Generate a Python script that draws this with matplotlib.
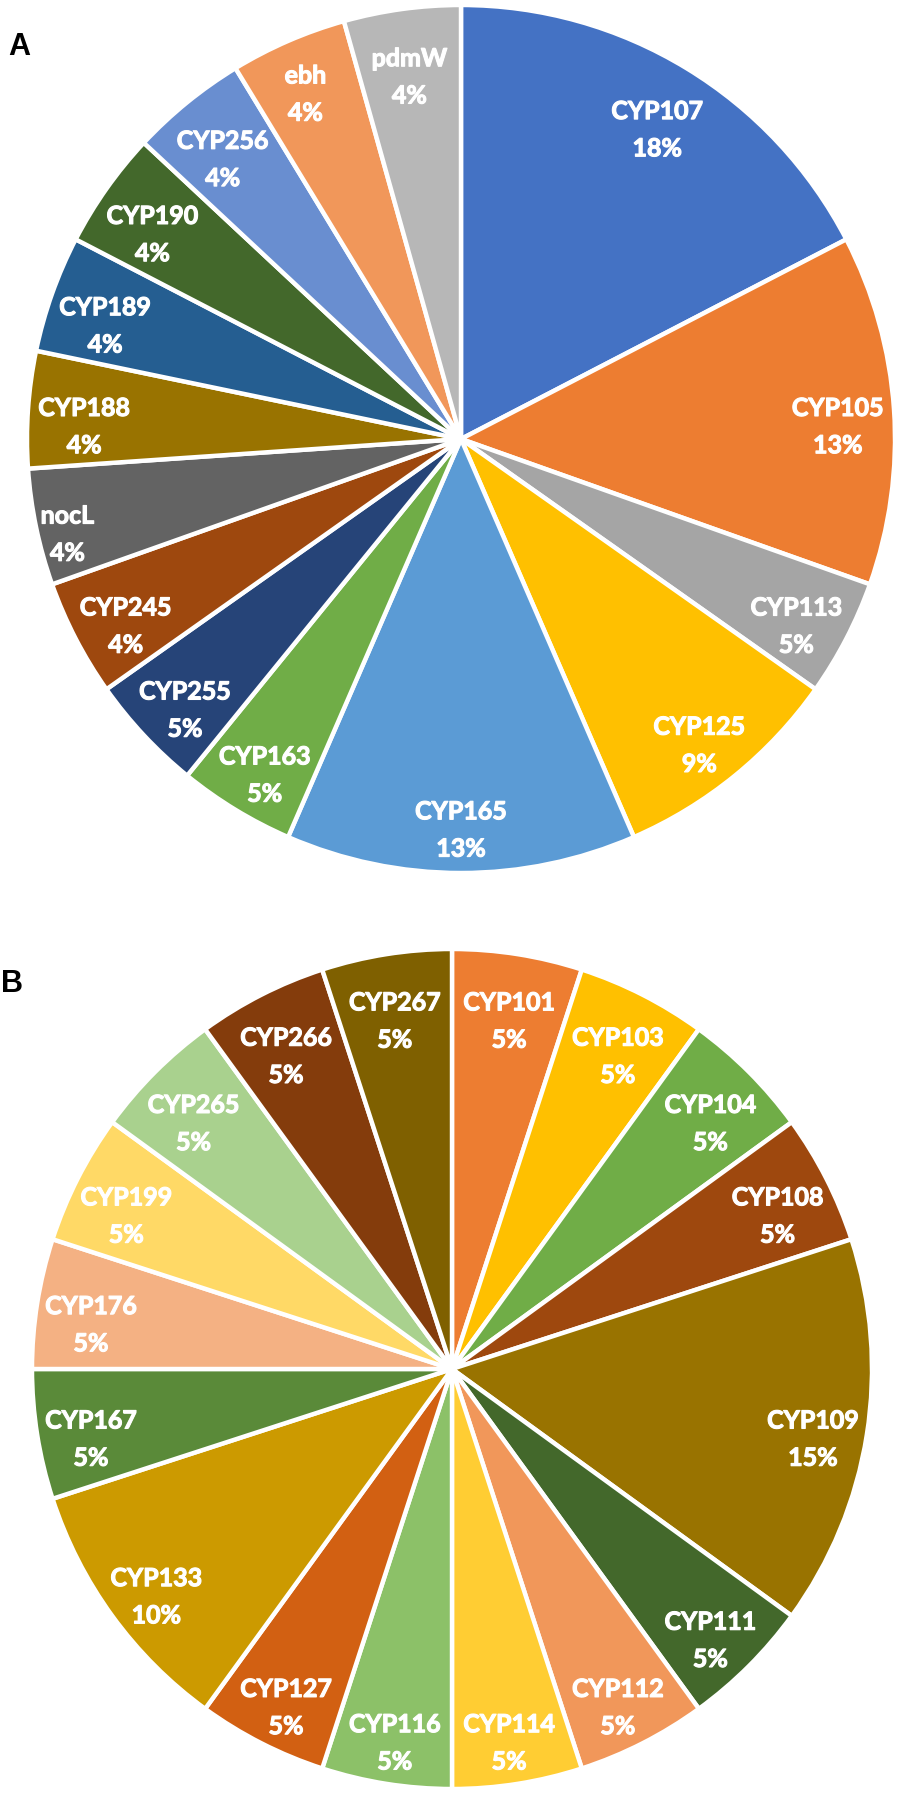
import matplotlib.pyplot as plt
import matplotlib.patheffects as pe
import numpy as np

# Panel A: P450 families (counts, labels as printed)
names_a = ["CYP107", "CYP105", "CYP113", "CYP125", "CYP165", "CYP163", "CYP255",
           "CYP245", "nocL", "CYP188", "CYP189", "CYP190", "CYP256", "ebh", "pdmW"]
counts_a = [4, 3, 1, 2, 3, 1, 1, 1, 1, 1, 1, 1, 1, 1, 1]
pct_a = ["18%", "13%", "5%", "9%", "13%", "5%", "5%", "4%", "4%", "4%", "4%",
         "4%", "4%", "4%", "4%"]
colors_a = ["#4472C4", "#ED7D31", "#A5A5A5", "#FFC000", "#5B9BD5", "#70AD47",
            "#264478", "#9E480E", "#636363", "#997300", "#255E91", "#43682B",
            "#698ED0", "#F1975A", "#B7B7B7"]

# Panel B
names_b = ["CYP101", "CYP103", "CYP104", "CYP108", "CYP109", "CYP111", "CYP112",
           "CYP114", "CYP116", "CYP127", "CYP133", "CYP167", "CYP176", "CYP199",
           "CYP265", "CYP266", "CYP267"]
counts_b = [1, 1, 1, 1, 3, 1, 1, 1, 1, 1, 2, 1, 1, 1, 1, 1, 1]
pct_b = ["5%", "5%", "5%", "5%", "15%", "5%", "5%", "5%", "5%", "5%", "10%",
         "5%", "5%", "5%", "5%", "5%", "5%"]
colors_b = ["#ED7D31", "#FFC000", "#70AD47", "#9E480E", "#997300", "#43682B",
            "#F1975A", "#FFCD33", "#8CC168", "#D26012", "#CC9A00", "#5A8A39",
            "#F4B183", "#FFD966", "#A9D18E", "#843C0C", "#7F6000"]

W, H, DPI = 900, 1794, 100
fig = plt.figure(figsize=(W / DPI, H / DPI), dpi=DPI)


def draw_pie(cx, cy, r, values, names, pcts, colors):
    # axes box is exactly the pie's square, in pixels
    ax = fig.add_axes([(cx - r) / W, (H - cy - r) / H, 2 * r / W, 2 * r / H])
    wedges, _ = ax.pie(values, colors=colors, startangle=90, counterclock=False,
                       radius=1, wedgeprops=dict(edgecolor="white", linewidth=3.2))
    ax.set_xlim(-1, 1)
    ax.set_ylim(-1, 1)
    ax.axis("off")
    out = []
    for w, n, p in zip(wedges, names, pcts):
        w.set_clip_on(False)
        t = ax.text(0, 0, n + "\n" + p, ha="center", va="center", color="white",
                    fontsize=18, fontweight="bold", family="Lato", linespacing=1.75,
                    path_effects=[pe.withStroke(linewidth=0.8, foreground="white")])
        out.append((w, t))
    return r, out


pies = [draw_pie(461, 439, 434, counts_a, names_a, pct_a, colors_a),
        draw_pie(452, 1369, 420, counts_b, names_b, pct_b, colors_b)]

fig.text(8 / W, 1 - 55 / H, "A", fontsize=22, fontweight="bold",
         family="Liberation Sans", va="baseline")
fig.text(1 / W, 1 - 992 / H, "B", fontsize=22, fontweight="bold",
         family="Liberation Sans", va="baseline")

# labels near the outer end of each wedge, like Excel's "inside end"
fig.canvas.draw()
renderer = fig.canvas.get_renderer()
for r, items in pies:
    hws = [t.get_window_extent(renderer).width / 2 / r for _, t in items]
    hw0 = max(hws)
    for (w, t), hw in zip(items, hws):
        ang = np.deg2rad((w.theta1 + w.theta2) / 2)
        ux, uy = np.cos(ang), np.sin(ang)
        rr = 0.87 + 1.3 * abs(ux) * (hw0 - hw)
        t.set_position((rr * ux, rr * uy - 0.032))

fig.savefig("out.png", dpi=DPI)
